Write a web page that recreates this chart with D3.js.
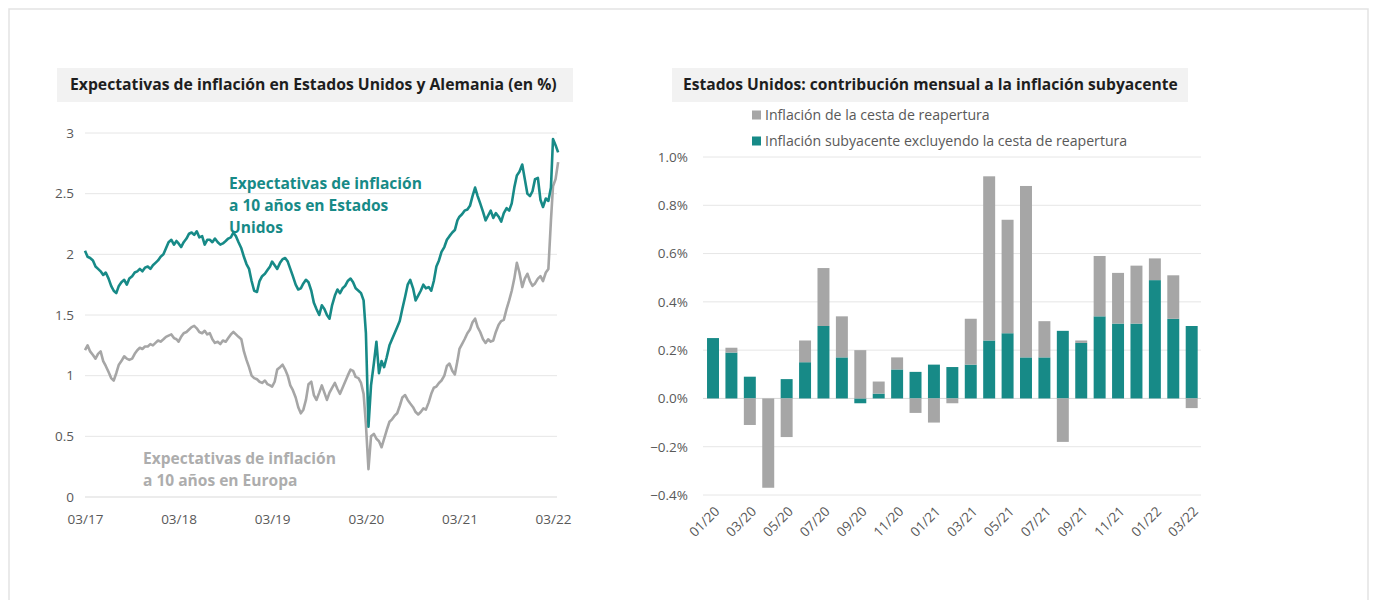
<!DOCTYPE html>
<meta charset="utf-8">
<script src="https://d3js.org/d3.v7.min.js"></script>
<style>
  body { margin: 0; background: #fff; }
  text { font-family: "Open Sans", sans-serif; }
</style>
<div class="canvas"></div>
<script>

    // ---- left chart: 10y breakevens, three readings per month (1st, 11th, 21st), 03/17 .. 03/22
    const usBreakeven = [
        2.03, 1.98, 1.97,  1.95, 1.90, 1.88,  1.86, 1.83, 1.85,  1.80, 1.74, 1.70,  1.68, 1.74, 1.77,
        1.79, 1.75, 1.80,  1.82, 1.85, 1.86,  1.88, 1.86, 1.89,  1.90, 1.88, 1.91,  1.93, 1.95, 1.98,
        2.00, 2.05, 2.10,  2.12, 2.08, 2.11,  2.09, 2.06, 2.10,  2.13, 2.17, 2.18,  2.16, 2.19, 2.14,
        2.15, 2.08, 2.12,  2.12, 2.10, 2.13,  2.10, 2.08, 2.09,  2.11, 2.13, 2.14,  2.18, 2.15, 2.10,
        2.05, 1.98, 1.92,  1.88, 1.78, 1.70,  1.69, 1.78, 1.82,  1.84, 1.87, 1.90,  1.94, 1.91, 1.88,
        1.93, 1.96, 1.97,  1.94, 1.88, 1.82,  1.75, 1.71, 1.72,  1.76, 1.79, 1.77,  1.70, 1.60, 1.55,
        1.50, 1.58, 1.55,  1.50, 1.47, 1.58,  1.66, 1.71, 1.68,  1.72, 1.74, 1.78,  1.80, 1.77, 1.72,
        1.70, 1.68, 1.62,  1.35, 0.58, 0.92,  1.10, 1.28, 1.02,  1.12, 1.07, 1.15,  1.25, 1.30, 1.35,
        1.40, 1.45, 1.55,  1.65, 1.75, 1.79,  1.72, 1.62, 1.66,  1.70, 1.75, 1.72,  1.73, 1.70, 1.78,
        1.90, 1.95, 2.02,  2.06, 2.12, 2.15,  2.18, 2.20, 2.28,  2.31, 2.33, 2.36,  2.37, 2.40, 2.48,
        2.55, 2.48, 2.42,  2.35, 2.28, 2.32,  2.36, 2.30, 2.34,  2.31, 2.27, 2.34,  2.38, 2.36, 2.42,
        2.55, 2.65, 2.68,  2.74, 2.62, 2.50,  2.48, 2.52, 2.62,  2.63, 2.45, 2.39,  2.46, 2.44, 2.55,
        2.95, 2.90, 2.84
    ]
    const euBreakeven = [
        1.21, 1.25, 1.20,  1.17, 1.14, 1.18,  1.20, 1.12, 1.08,  1.03, 0.98, 0.96,  1.02, 1.09, 1.12,
        1.16, 1.14, 1.13,  1.14, 1.18, 1.21,  1.23, 1.22, 1.24,  1.24, 1.26, 1.25,  1.27, 1.29, 1.28,
        1.30, 1.32, 1.33,  1.34, 1.31, 1.30,  1.28, 1.32, 1.35,  1.36, 1.38, 1.40,  1.41, 1.39, 1.36,
        1.35, 1.37, 1.34,  1.35, 1.30, 1.27,  1.28, 1.26, 1.29,  1.28, 1.31, 1.34,  1.36, 1.34, 1.32,
        1.30, 1.20, 1.13,  1.07, 1.00, 0.98,  0.97, 0.95, 0.94,  0.96, 0.93, 0.92,  0.91, 0.95, 1.05,
        1.07, 1.09, 1.05,  1.00, 0.92, 0.88,  0.82, 0.74, 0.69,  0.72, 0.80, 0.93,  0.95, 0.84, 0.80,
        0.86, 0.92, 0.86,  0.80, 0.86, 0.90,  0.94, 0.89, 0.85,  0.90, 0.95, 1.00,  1.05, 1.04, 0.99,
        0.98, 0.94, 0.85,  0.60, 0.23, 0.50,  0.52, 0.48, 0.46,  0.41, 0.48, 0.55,  0.62, 0.64, 0.67,
        0.69, 0.75, 0.82,  0.84, 0.80, 0.77,  0.74, 0.70, 0.68,  0.70, 0.73, 0.72,  0.78, 0.85, 0.90,
        0.91, 0.94, 0.96,  1.00, 1.08, 1.10,  1.04, 1.01, 1.12,  1.22, 1.26, 1.30,  1.35, 1.38, 1.44,
        1.47, 1.40, 1.36,  1.30, 1.27, 1.30,  1.28, 1.29, 1.36,  1.42, 1.45, 1.46,  1.55, 1.62, 1.70,
        1.80, 1.93, 1.85,  1.73, 1.80, 1.84,  1.78, 1.74, 1.76,  1.80, 1.82, 1.78,  1.85, 1.88, 2.28,
        2.56, 2.62, 2.76
    ]
    const readingDays = [1, 11, 21]
    const leftXTicks = ["03/17", "03/18", "03/19", "03/20", "03/21", "03/22"]
    const leftYTicks = [0, 0.5, 1, 1.5, 2, 2.5, 3]

    // ---- right chart: monthly contribution to core inflation (%)
    const months = ["01/20","02/20","03/20","04/20","05/20","06/20","07/20","08/20","09/20","10/20","11/20","12/20",
                    "01/21","02/21","03/21","04/21","05/21","06/21","07/21","08/21","09/21","10/21","11/21","12/21",
                    "01/22","02/22","03/22"]
    const coreExReopening = [0.25, 0.19, 0.09, 0.00, 0.08, 0.15, 0.30, 0.17, -0.02, 0.02, 0.12, 0.11,
                             0.14, 0.13, 0.14, 0.24, 0.27, 0.17, 0.17, 0.28, 0.23, 0.34, 0.31, 0.31,
                             0.49, 0.33, 0.30]
    const reopening = [0.00, 0.02, -0.11, -0.37, -0.16, 0.09, 0.24, 0.17, 0.20, 0.05, 0.05, -0.06,
                       -0.10, -0.02, 0.19, 0.68, 0.47, 0.71, 0.15, -0.18, 0.01, 0.25, 0.21, 0.24,
                       0.09, 0.18, -0.04]
    const rightYTicks = [-0.4, -0.2, 0, 0.2, 0.4, 0.6, 0.8, 1.0]
    const legendLabels = ["Inflación de la cesta de reapertura", "Inflación subyacente excluyendo la cesta de reapertura"]

    const teal = "#178a87"
    const grey = "#a6a6a6"
    const axisGrey = "#595959"
    const gridGrey = "#e6e6e6"

    const width = 1374
    const height = 600

    const svg = d3.select(".canvas")
                .append("svg")
                .attr("width", width)
                .attr("height", height)

    // outer frame
    svg.append("rect")
        .attr("x", 9).attr("y", 9)
        .attr("width", 1359).attr("height", 620)
        .attr("fill", "#fff")
        .attr("stroke", "#e3e3e3")
        .attr("stroke-width", 1.5)

    // shrink / grow a text node so it spans a given width
    function fit(sel, w) {
        const len = sel.node().getComputedTextLength()
        const fs = parseFloat(sel.style("font-size"))
        sel.style("font-size", (fs * w / len).toFixed(2) + "px")
    }

    function titleBox(x, w, label, textX, textW) {
        svg.append("rect")
            .attr("x", x).attr("y", 68)
            .attr("width", w).attr("height", 34)
            .attr("fill", "#f2f2f2")
        const t = svg.append("text")
            .attr("x", textX).attr("y", 90)
            .attr("font-weight", 700)
            .attr("fill", "#1e1e1e")
            .style("font-size", "15px")
            .text(label)
        fit(t, textW)
    }

    titleBox(57, 516, "Expectativas de inflación en Estados Unidos y Alemania (en %)", 70, 487)
    titleBox(672, 516, "Estados Unidos: contribución mensual a la inflación subyacente", 683, 495)

    // ================= left chart =================
    const parseMonth = d3.timeParse("%m/%y")
    const dates = usBreakeven.map((d, i) => new Date(2017, 2 + Math.floor(i / 3), readingDays[i % 3]))

    const x1 = d3.scaleTime()
                .domain([parseMonth("03/17"), parseMonth("03/22")])
                .range([85, 553])
    const y1 = d3.scaleLinear()
                .domain([0, 3])
                .range([497, 133])

    const left = svg.append("g")

    left.append("g")
        .selectAll("line")
        .data(leftYTicks)
        .join("line")
        .attr("x1", 85).attr("x2", 557)
        .attr("y1", d => y1(d)).attr("y2", d => y1(d))
        .attr("stroke", d => d === 0 ? "#d9d9d9" : gridGrey)
        .attr("stroke-width", 1)

    const gy1 = left.append("g")
        .attr("transform", "translate(85,0)")
        .call(d3.axisLeft(y1).tickValues(leftYTicks).tickFormat(d3.format("")).tickSize(0).tickPadding(11))
    gy1.select(".domain").remove()

    const gx1 = left.append("g")
        .attr("transform", "translate(0,497)")
        .call(d3.axisBottom(x1).tickValues(leftXTicks.map(parseMonth)).tickFormat(d3.timeFormat("%m/%y")).tickSize(0).tickPadding(17))
    gx1.select(".domain").remove()

    left.selectAll(".tick text")
        .attr("fill", axisGrey)
        .style("font-size", "13.5px")
        .style("font-family", "'Open Sans', sans-serif")

    const line = d3.line()
                .x((d, i) => x1(dates[i]))
                .y(d => y1(d))

    left.append("path")
        .datum(euBreakeven)
        .attr("d", line)
        .attr("fill", "none")
        .attr("stroke", grey)
        .attr("stroke-width", 2.6)
        .attr("stroke-linejoin", "round")

    left.append("path")
        .datum(usBreakeven)
        .attr("d", line)
        .attr("fill", "none")
        .attr("stroke", teal)
        .attr("stroke-width", 2.6)
        .attr("stroke-linejoin", "round")

    // in-chart labels; every line uses the size fitted on the first one
    function note(lines, x, y0, color) {
        const first = left.append("text")
            .attr("x", x).attr("y", y0)
            .attr("font-weight", 700)
            .attr("fill", color)
            .style("font-size", "15px")
            .text(lines[0])
        fit(first, 193)
        const fs = first.style("font-size")
        lines.slice(1).forEach((s, i) => {
            left.append("text")
                .attr("x", x).attr("y", y0 + (i + 1) * 22)
                .attr("font-weight", 700)
                .attr("fill", color)
                .style("font-size", fs)
                .text(s)
        })
    }
    note(["Expectativas de inflación", "a 10 años en Estados", "Unidos"], 229, 189, teal)
    note(["Expectativas de inflación", "a 10 años en Europa"], 143, 464, "#adadad")

    // ================= right chart =================
    const x2 = d3.scaleBand()
                .domain(months)
                .range([703.8, 1200.9])
                .paddingInner(0.35)
                .paddingOuter(0.175)
    const y2 = d3.scaleLinear()
                .domain([-0.4, 1.0])
                .range([495, 157])

    const right = svg.append("g")

    right.append("g")
        .selectAll("line")
        .data(rightYTicks)
        .join("line")
        .attr("x1", 703).attr("x2", 1201)
        .attr("y1", d => y2(d)).attr("y2", d => y2(d))
        .attr("stroke", d => d === 0 ? "#d9d9d9" : gridGrey)
        .attr("stroke-width", 1)

    const gy2 = right.append("g")
        .attr("transform", "translate(703,0)")
        .call(d3.axisLeft(y2).tickValues(rightYTicks).tickFormat(d => d3.format(".1f")(d) + "%").tickSize(0).tickPadding(15))
    gy2.select(".domain").remove()
    gy2.selectAll("text")
        .attr("fill", axisGrey)
        .style("font-size", "13.5px")
        .style("font-family", "'Open Sans', sans-serif")

    const table = months.map((m, i) => ({month: m, core: coreExReopening[i], reopen: reopening[i]}))
    const stacked = d3.stack()
                    .keys(["core", "reopen"])
                    .offset(d3.stackOffsetDiverging)(table)
    const barColor = {core: teal, reopen: grey}

    right.append("g")
        .selectAll("g")
        .data(stacked)
        .join("g")
        .attr("fill", s => barColor[s.key])
        .selectAll("rect")
        .data(s => s)
        .join("rect")
        .attr("x", d => x2(d.data.month))
        .attr("width", x2.bandwidth())
        .attr("y", d => y2(Math.max(d[0], d[1])))
        .attr("height", d => Math.abs(y2(d[0]) - y2(d[1])))

    // category labels, every other month, rotated
    right.append("g")
        .selectAll("text")
        .data(months.filter((m, i) => i % 2 === 0))
        .join("text")
        .attr("transform", d => `translate(${x2(d) + x2.bandwidth() / 2 + 4},${509}) rotate(-45)`)
        .attr("text-anchor", "end")
        .attr("dy", "0.35em")
        .attr("fill", axisGrey)
        .style("font-size", "13.5px")
        .text(d => d)

    // legend
    const legend = right.append("g")
    legendLabels.forEach((lab, i) => {
        const yy = 115 + i * 26
        legend.append("rect")
            .attr("x", 752).attr("y", yy - 4.5)
            .attr("width", 9).attr("height", 9)
            .attr("fill", i === 0 ? grey : teal)
        legend.append("text")
            .attr("x", 765).attr("y", yy)
            .attr("dy", "0.35em")
            .attr("fill", axisGrey)
            .style("font-size", "13px")
            .text(lab)
    })
    fit(legend.selectAll("text").filter((d, i) => i === 0), 225)
    legend.selectAll("text").style("font-size", legend.select("text").style("font-size"))

</script>
